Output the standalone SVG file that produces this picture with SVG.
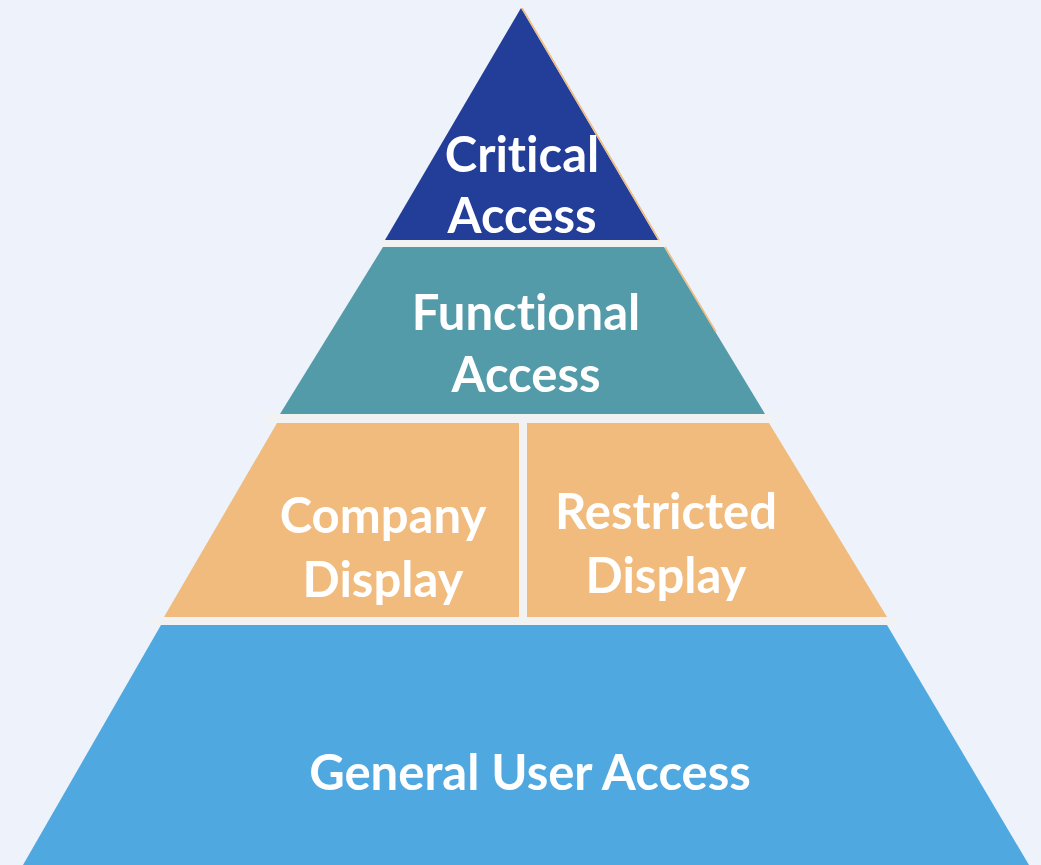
<svg xmlns="http://www.w3.org/2000/svg" width="1041" height="865" viewBox="0 0 1041 865">
<style>
.t{font-family:Lato,"Open Sans","Liberation Sans",sans-serif;font-weight:bold;font-size:49px;fill:#ffffff;text-anchor:middle;font-variant-ligatures:none;font-feature-settings:"liga" 0,"clig" 0}
.band{fill:#F2F2F2}
</style>
<rect x="0" y="0" width="1041" height="865" fill="#EEF2FA"/>
<g id="bands">
<rect class="band" x="382" y="240" width="284" height="7"/>
<rect class="band" x="265" y="414" width="509" height="9"/>
<rect class="band" x="150" y="617" width="748" height="8"/>
<rect class="band" x="519" y="414" width="8" height="211"/>
</g>
<g id="critical">
<polygon points="521,8 658,240 385,240" fill="#233E99"/>
<text class="t" x="522" y="172">Critical</text>
<text class="t" x="522" y="233">Access</text>
</g>
<g id="functional">
<polygon points="383,247 664,247 765,414 280,414" fill="#549BA9"/>
<text class="t" x="526" y="330">Functional</text>
<text class="t" x="526" y="392">Access</text>
</g>
<g id="company">
<polygon points="277,423 519,423 519,617 164,617" fill="#F0BB7D"/>
<text class="t" x="383" y="533">Company</text>
<text class="t" x="383" y="597">Display</text>
</g>
<g id="restricted">
<polygon points="527,423 769,423 887,617 527,617" fill="#F0BB7D"/>
<text class="t" x="666" y="529">Restricted</text>
<text class="t" x="666" y="593">Display</text>
</g>
<g id="general">
<polygon points="161,625 887,625 1029,865 23,865" fill="#4FA8DF"/>
<text class="t" x="530" y="790">General User Access</text>
</g>
<g id="connectors">
<line x1="522" y1="8" x2="659" y2="240" stroke="#F0BB7D" stroke-width="1.5"/>
<line x1="665" y1="247" x2="716" y2="332" stroke="#F0BB7D" stroke-width="1.5"/>
</g>
</svg>
